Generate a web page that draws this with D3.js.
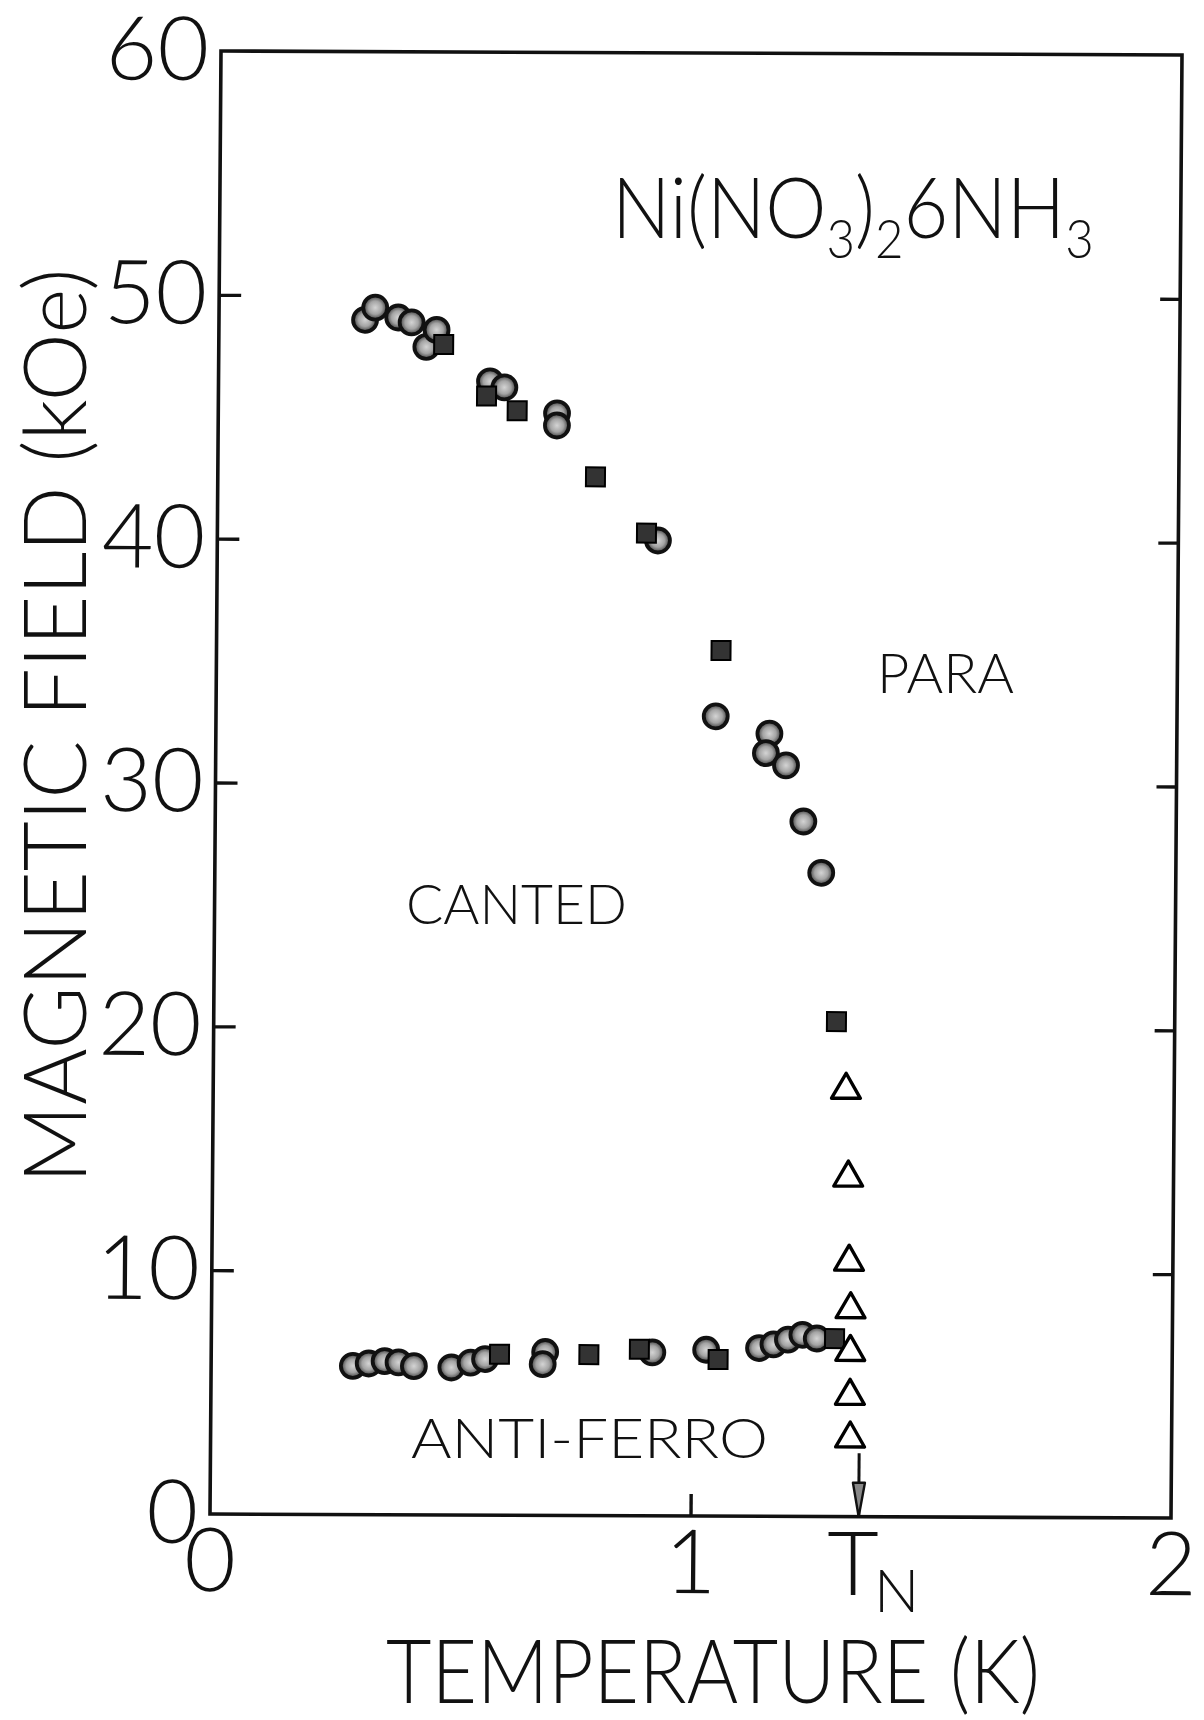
<!DOCTYPE html>
<html><head><meta charset="utf-8">
<script src="https://cdn.jsdelivr.net/npm/d3@7"></script>
<style>
html,body{margin:0;padding:0;background:#fff;}
svg{display:block;}
text{font-family:"Lato","DejaVu Sans",sans-serif;font-weight:300;fill:#111;}
</style></head><body>
<svg id="chart" width="1204" height="1720"></svg>
<script>
// ---------------- data (T in K, H in kOe) ----------------
const circleT = [0.304,0.325,0.373,0.401,0.432,0.453,0.565,0.595,0.705,0.705,0.917,1.04,1.152,1.145,1.187,1.224,1.262,
                 0.295,0.328,0.361,0.39,0.422,0.50,0.54,0.57,0.695,0.69,0.918,1.03,1.14,1.17,1.20,1.23,1.26];
const circleH = [49.0,49.5,49.1,48.9,47.9,48.6,46.5,46.25,45.2,44.7,40.0,32.8,32.1,31.3,30.8,28.5,26.4,
                 6.1,6.2,6.3,6.25,6.1,6.05,6.25,6.4,6.7,6.2,6.7,6.82,6.9,7.05,7.25,7.45,7.3];
const squareT = [0.468,0.558,0.622,0.786,0.893,1.05,1.296, 0.60,0.786,0.891,1.055,1.297];
const squareH = [48.0,45.9,45.3,42.6,40.3,35.5,20.3, 6.6,6.6,6.83,6.42,7.3];
const triangleT = [1.317,1.323,1.326,1.33,1.33,1.33,1.331];
const triangleH = [17.5,13.9,10.45,8.5,6.75,4.95,3.2];
const xTickValues = [0,1,2];
const xInnerTicks = [1];
const yTickValues = [0,10,20,30,40,50,60];
const yInnerTicks = [10,20,30,40,50];
const TN = 1.35;          // Neel temperature marker
const TNarrowTop = 2.6;   // kOe, top of arrow
const regionLabels = ["PARA","CANTED","ANTI-FERRO"];

// ---------------- layout ----------------
const W = 1204, Hh = 1720;
const origin = {x:210, y:1514};
const plotW = 961, plotH = 1463;
const skewX = -11/1463, skewY = 4/961;
const ink = "#111";

const x = d3.scaleLinear().domain([0,2]).range([0,plotW]);
const y = d3.scaleLinear().domain([0,60]).range([0,-plotH]);

const svg = d3.select("#chart");
svg.append("rect").attr("width",W).attr("height",Hh).attr("fill","#fff");

const defs = svg.append("defs");
const rg = defs.append("radialGradient").attr("id","dotfill");
rg.append("stop").attr("offset","0%").attr("stop-color","#d4d4d4");
rg.append("stop").attr("offset","55%").attr("stop-color","#a4a4a4");
rg.append("stop").attr("offset","100%").attr("stop-color","#3a3a3a");

const g = svg.append("g")
  .attr("transform",`matrix(1,${skewY},${skewX},1,${origin.x},${origin.y})`);

// frame
g.append("rect").attr("x",0).attr("y",-plotH).attr("width",plotW).attr("height",plotH)
  .attr("fill","none").attr("stroke",ink).attr("stroke-width",3.6);

function styleAxis(sel){
  sel.select(".domain").remove();
  sel.selectAll("line").attr("stroke",ink).attr("stroke-width",3.4);
  sel.selectAll("text").attr("fill",ink).style("font-size","89px")
     .style("font-family",'"Lato","DejaVu Sans",sans-serif').style("font-weight",300);
}
// inward tick marks
g.append("g").call(d3.axisLeft(y).tickValues(yInnerTicks).tickSizeInner(-22).tickSizeOuter(0).tickFormat(""))
  .call(styleAxis);
g.append("g").attr("transform",`translate(${plotW},0)`)
  .call(d3.axisRight(y).tickValues(yInnerTicks).tickSizeInner(-20).tickSizeOuter(0).tickFormat(""))
  .call(styleAxis);
g.append("g").call(d3.axisBottom(x).tickValues(xInnerTicks).tickSizeInner(-22).tickSizeOuter(0).tickFormat(""))
  .call(styleAxis);
// tick labels
g.append("g").call(d3.axisLeft(y).tickValues(yTickValues).tickSize(0).tickPadding(12).tickFormat(d3.format("d")))
  .call(styleAxis);
g.append("g").call(d3.axisBottom(x).tickValues(xTickValues).tickSize(0).tickPadding(14).tickFormat(d3.format("d")))
  .call(styleAxis);

// marks
g.append("g").selectAll("circle").data(d3.zip(circleT,circleH)).join("circle")
  .attr("cx",d=>x(d[0])).attr("cy",d=>y(d[1])).attr("r",12)
  .attr("fill","url(#dotfill)").attr("stroke",ink).attr("stroke-width",3.8);
const sq = d3.symbol(d3.symbolSquare, 19*19);
g.append("g").selectAll("path").data(d3.zip(squareT,squareH)).join("path")
  .attr("d",sq).attr("transform",d=>`translate(${x(d[0])},${y(d[1])})`)
  .attr("fill","#333").attr("stroke","#000").attr("stroke-width",2);
const tri = d3.symbol(d3.symbolTriangle, 360);
g.append("g").selectAll("path").data(d3.zip(triangleT,triangleH)).join("path")
  .attr("d",tri).attr("transform",d=>`translate(${x(d[0])},${y(d[1])})`)
  .attr("fill","#fff").attr("stroke","#000").attr("stroke-width",3.4).attr("stroke-linejoin","round");

// T_N arrow
const ax = x(TN);
g.append("line").attr("x1",ax).attr("x2",ax).attr("y1",y(TNarrowTop)).attr("y2",y(0))
  .attr("stroke",ink).attr("stroke-width",3);
g.append("path").attr("d",`M${ax-6},${y(0)-34}L${ax},${y(0)}L${ax+6},${y(0)-34}Z`)
  .attr("fill","#888").attr("stroke",ink).attr("stroke-width",2.4).attr("stroke-linejoin","round");

// ---------------- texts (page coordinates) ----------------
svg.append("text").attr("transform","translate(86,726) rotate(-90)")
  .attr("text-anchor","middle").style("font-size","86px")
  .attr("textLength",915).attr("lengthAdjust","spacingAndGlyphs")
  .text("MAGNETIC FIELD (kOe)");
svg.append("text").attr("x",713).attr("y",1703)
  .attr("text-anchor","middle").style("font-size","88px")
  .attr("textLength",654).attr("lengthAdjust","spacingAndGlyphs")
  .text("TEMPERATURE (K)");

// compound title (horizontally condensed like the lettering)
const title = svg.append("text").attr("transform","translate(612,238) scale(0.91,1)").style("font-size","85px");
title.append("tspan").text("Ni(NO");
title.append("tspan").attr("dy",20).style("font-size","54px").text("3");
title.append("tspan").attr("dy",-20).text(")");
title.append("tspan").attr("dy",20).style("font-size","54px").text("2");
title.append("tspan").attr("dy",-20).text("6NH");
title.append("tspan").attr("dy",20).style("font-size","54px").text("3");

// region labels
const regionPos = [[877,693,137],[406,924,221],[411,1458,357]];
regionLabels.forEach((t,i)=>{
  svg.append("text").attr("x",regionPos[i][0]).attr("y",regionPos[i][1])
    .style("font-size","55px").attr("textLength",regionPos[i][2]).attr("lengthAdjust","spacingAndGlyphs")
    .text(t);
});

// T_N label
svg.append("text").attr("x",853).attr("y",1595).attr("text-anchor","middle").style("font-size","89px").text("T");
svg.append("text").attr("x",874).attr("y",1612).style("font-size","60px").text("N");
</script>
</body></html>
